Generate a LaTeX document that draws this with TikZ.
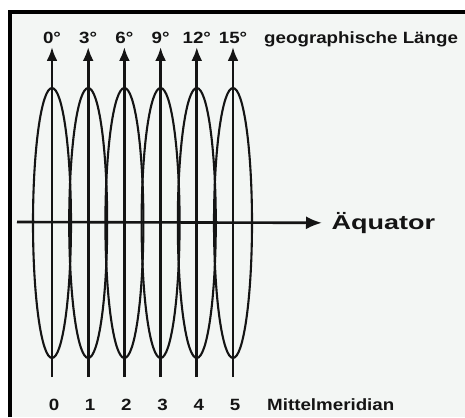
\documentclass[tikz,border=0pt]{standalone}
\usepackage{fontspec}
\setmainfont{Liberation Sans}
\usetikzlibrary{arrows.meta}
\definecolor{paper}{RGB}{243,246,244}
\definecolor{ink}{RGB}{20,20,20}

\begin{document}
\begin{tikzpicture}[
    x=1pt, y=-1pt,
    zone/.style={draw=ink, line width=2.1pt},
    meridian/.style={draw=ink, line width=2.7pt, -{Latex[length=14pt,width=11pt]}},
    equator/.style={draw=ink, line width=2.6pt, -{Latex[length=16pt,width=13pt]}},
    lab/.style={font=\bfseries\fontsize{16.3}{19}\selectfont, xscale=1.15, inner sep=0pt, text=ink},
    biglab/.style={font=\bfseries\fontsize{20}{24}\selectfont, xscale=1.35, inner xsep=7pt, inner ysep=0pt, text=ink}
]
\useasboundingbox (0,0) rectangle (465,417);
% Rahmen
\fill[paper] (10,12) rectangle (465,417);
\draw[line width=3.5pt] (10,417) -- (10,12) -- (465,12);

% Streifen mit Mittelmeridian
\foreach \i/\deg in {0/0,1/3,2/6,3/9,4/12,5/15} {
    \pgfmathsetmacro{\xm}{52+36.2*\i}
    \draw[zone] (\xm,223) ellipse [x radius=19pt, y radius=135pt];
    \coordinate (foot\i) at (\xm,377);
    \coordinate (tip\i) at (\xm,47);
    \draw[meridian] (foot\i) -- (tip\i);
    \node[lab, anchor=base] (deg\i) at (\xm,43.5) {\deg°};
    \node[lab, anchor=base] (mm\i) at (\xm+2,410) {\i};
}
\node[lab, anchor=base west] (laenge) at (264,43.5) {geographische Länge};
\node[lab, anchor=base west] (mittel) at (267,410) {Mittelmeridian};

% Aequator
\coordinate (eqstart) at (17,222);
\node[biglab, anchor=west] (eq) at (322,223) {Äquator};
\draw[equator] (eqstart) -- (eq);
\end{tikzpicture}
\end{document}
